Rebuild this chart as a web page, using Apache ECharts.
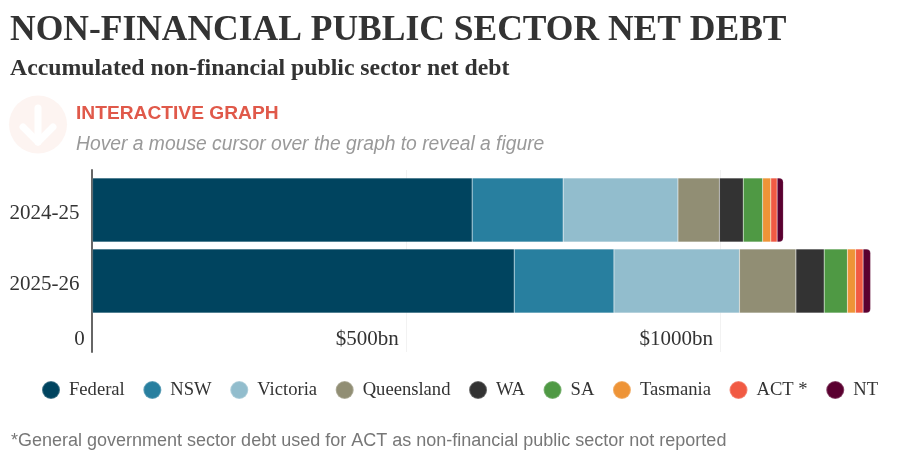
<!DOCTYPE html>
<html><head><meta charset="utf-8">
<style>html,body{margin:0;padding:0;background:#fff}#c{width:897px;height:458px}</style>
<script src="https://cdn.jsdelivr.net/npm/echarts@6/dist/echarts.min.js"></script>
</head><body><div id="c"></div>
<script>
const years = ['2024-25','2025-26'];
const Federal = [605,672];
const NSW = [145,159];
const Victoria = [183,200];
const Queensland = [66,90];
const WA = [38,45];
const SA = [31,37];
const Tasmania = [13,13];
const ACT = [10,12];
const NT = [10,12];
const axisTicks = {0:'0',500:'$500bn',1000:'$1000bn'};
const serif = '"Liberation Serif"', sans = '"Liberation Sans"';
const xMax = 1270;
const seriesDefs = [
 ['Federal',Federal,'#00445f'],['NSW',NSW,'#287f9f'],['Victoria',Victoria,'#92bdcd'],
 ['Queensland',Queensland,'#918e74'],['WA',WA,'#333333'],['SA',SA,'#4f9944'],
 ['Tasmania',Tasmania,'#ee9437'],['ACT *',ACT,'#f15a43'],['NT',NT,'#5a0030']];
const chart = echarts.init(document.getElementById('c'),null,{renderer:'canvas'});
const t = (text,left,top,style)=>({text,left,top,padding:0,textStyle:Object.assign({fontWeight:'normal'},style)});
chart.setOption({
 animation:false,
 backgroundColor:'#fff',
 title:[
  t('NON-FINANCIAL PUBLIC SECTOR NET DEBT',10,13,{fontFamily:serif,fontSize:35.5,fontWeight:'bold',color:'#333'}),
  t('Accumulated non-financial public sector net debt',10,57,{fontFamily:serif,fontSize:23.75,fontWeight:'bold',color:'#333'}),
  t('INTERACTIVE GRAPH',76,104,{fontFamily:sans,fontSize:19.2,fontWeight:'bold',color:'#e0594a'}),
  t('Hover a mouse cursor over the graph to reveal a figure',76,135,{fontFamily:sans,fontSize:19.3,fontStyle:'italic',color:'#999'}),
  t('*General government sector debt used for ACT as non-financial public sector not reported',11,432,{fontFamily:sans,fontSize:18,color:'#777'})
 ],
 graphic:[
  {type:'circle',shape:{cx:38,cy:124.5,r:29},style:{fill:'#fdf4f1'},silent:true},
  {type:'polyline',shape:{points:[[38,108],[38,142]]},style:{stroke:'#fff',lineWidth:7,lineCap:'round',fill:null},silent:true},
  {type:'polyline',shape:{points:[[23,127],[38,142],[53,127]]},style:{stroke:'#fff',lineWidth:7,lineCap:'round',lineJoin:'round',fill:null},silent:true}
 ],
 legend:{show:true,left:41,top:380,padding:0,icon:'circle',itemWidth:18,itemHeight:18,itemGap:17.6,
  data:seriesDefs.map(d=>d[0]),textStyle:{fontFamily:serif,fontSize:18.6,color:'#333',padding:[0,0,0,4]}},
 grid:[
  {left:91.7,width:xMax*0.6283,top:170,height:182},
  {left:92.5,width:xMax*0.6275,top:174.5,height:142}
 ],
 xAxis:[
  {gridIndex:0,type:'value',min:0,max:xMax,interval:500,axisLine:{show:false},axisTick:{show:false},
   splitLine:{show:true,showMaxLine:false,lineStyle:{color:'#f2f2f2',width:1}},
   axisLabel:{inside:true,margin:13,align:'right',verticalAlign:'middle',padding:[0,7,0,0],showMaxLabel:false,fontFamily:serif,fontSize:21,color:'#333',
    formatter:v=>axisTicks[v]||''}},
  {gridIndex:1,type:'value',min:0,max:xMax,show:false}
 ],
 yAxis:[
  {gridIndex:0,type:'category',data:[''],axisLine:{show:true,lineStyle:{color:'#666',width:2}},axisTick:{show:false},axisLabel:{show:false},splitLine:{show:false}},
  {gridIndex:1,type:'category',inverse:true,data:years,axisLine:{show:false},axisTick:{show:false},
   axisLabel:{margin:13,verticalAlign:'top',lineHeight:6,fontFamily:serif,fontSize:21,color:'#333'}}
 ],
 series:seriesDefs.map((d,i)=>({
  name:d[0],type:'bar',stack:'debt',xAxisIndex:1,yAxisIndex:1,data:d[1],barWidth:64,
  itemStyle:{color:d[2],borderColor:'rgba(255,255,255,0.25)',borderWidth:0.5,borderRadius:i===seriesDefs.length-1?[0,4,4,0]:0},
  emphasis:{disabled:true}
 }))
});
</script></body></html>
